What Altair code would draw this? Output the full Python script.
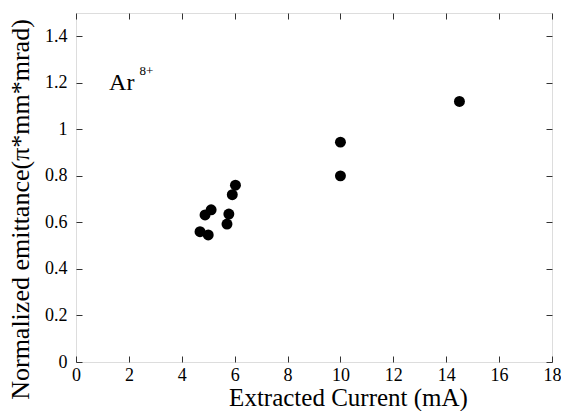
import altair as alt
import pandas as pd

current = [4.69, 5.0, 4.88, 5.11, 5.71, 5.78, 5.91, 6.03, 10.0, 10.0, 14.5]
emittance = [0.560, 0.546, 0.632, 0.654, 0.593, 0.636, 0.719, 0.760, 0.80, 0.945, 1.12]

x_ticks = [0, 2, 4, 6, 8, 10, 12, 14, 16, 18]
y_ticks = [0, 0.2, 0.4, 0.6, 0.8, 1, 1.2, 1.4]

ion_label = ["Ar"]
ion_x = [1.25]
ion_y = [1.17]
charge_label = ["8+"]
charge_x = [2.4]
charge_y = [1.235]

df = pd.DataFrame({"current": current, "emittance": emittance})
ion_df = pd.DataFrame({"t": ion_label, "x": ion_x, "y": ion_y})
charge_df = pd.DataFrame({"t": charge_label, "x": charge_x, "y": charge_y})

FONT = "Liberation Serif"
TICK = 6

xscale = alt.Scale(domain=[0, 18], nice=False, zero=False)
yscale = alt.Scale(domain=[0, 1.5], nice=False, zero=False)

x_main = alt.X(
    "current:Q", scale=xscale,
    axis=alt.Axis(
        values=x_ticks, title="Extracted Current (mA)", orient="bottom",
        offset=-TICK, tickSize=TICK, domain=False, grid=False,
        labelPadding=4, labelFont=FONT, labelFontSize=18,
        labelColor="#000", labelFontWeight="normal",
        titleFont=FONT, titleFontSize=25, titleFontWeight="normal", titleColor="#000",
        titleX=272, titleY=49, titleBaseline="alphabetic", tickColor="#333", labelFlush=False,
    ),
)
y_main = alt.Y(
    "emittance:Q", scale=yscale,
    axis=alt.Axis(
        values=y_ticks, format="~g", title="Normalized emittance(π*mm*mrad)", orient="left",
        offset=-TICK, tickSize=TICK, domain=False, grid=False,
        labelPadding=9, labelFont=FONT, labelFontSize=18,
        labelColor="#000", labelFontWeight="normal",
        titleFont=FONT, titleFontSize=26, titleFontWeight="normal", titleColor="#000",
        titleX=-54, titleY=196, titleBaseline="alphabetic", tickColor="#333", labelFlush=False,
    ),
)

points = alt.Chart(df).mark_circle(size=120, color="#000", opacity=1).encode(x=x_main, y=y_main)

top_axis = alt.Axis(values=x_ticks, orient="top", offset=-TICK, tickSize=TICK,
                    labels=False, title=None, domain=False, grid=False, tickColor="#333")
right_axis = alt.Axis(values=y_ticks, orient="right", offset=-TICK, tickSize=TICK,
                      labels=False, title=None, domain=False, grid=False, tickColor="#333")

mirror_pts = alt.Chart(df).mark_circle(size=120, color="#000", opacity=0).encode(
    x=alt.X("current:Q", scale=xscale, axis=top_axis),
    y=alt.Y("emittance:Q", scale=yscale, axis=right_axis),
)

ion = alt.Chart(ion_df).mark_text(
    font=FONT, fontSize=24, align="left", baseline="alphabetic", color="#000"
).encode(x=alt.X("x:Q", scale=xscale, axis=top_axis),
         y=alt.Y("y:Q", scale=yscale, axis=right_axis), text="t:N")

charge = alt.Chart(charge_df).mark_text(
    font=FONT, fontSize=13, align="left", baseline="alphabetic", color="#000"
).encode(x=alt.X("x:Q", scale=xscale, axis=top_axis),
         y=alt.Y("y:Q", scale=yscale, axis=right_axis), text="t:N")

mirror = alt.layer(mirror_pts, ion, charge)

chart = alt.layer(points, mirror).resolve_scale(x="independent", y="independent").properties(
    width=476, height=349,
    autosize=alt.AutoSizeParams(type="none"),
    padding={"left": 68, "top": 5, "right": 9, "bottom": 49},
).configure_view(stroke="#333", strokeWidth=1.2).configure_axis(
    labelFont=FONT, titleFont=FONT
).configure_text(font=FONT).configure(background="white", font=FONT)

chart.save("out.html", embed_options={"renderer": "svg", "actions": False})
